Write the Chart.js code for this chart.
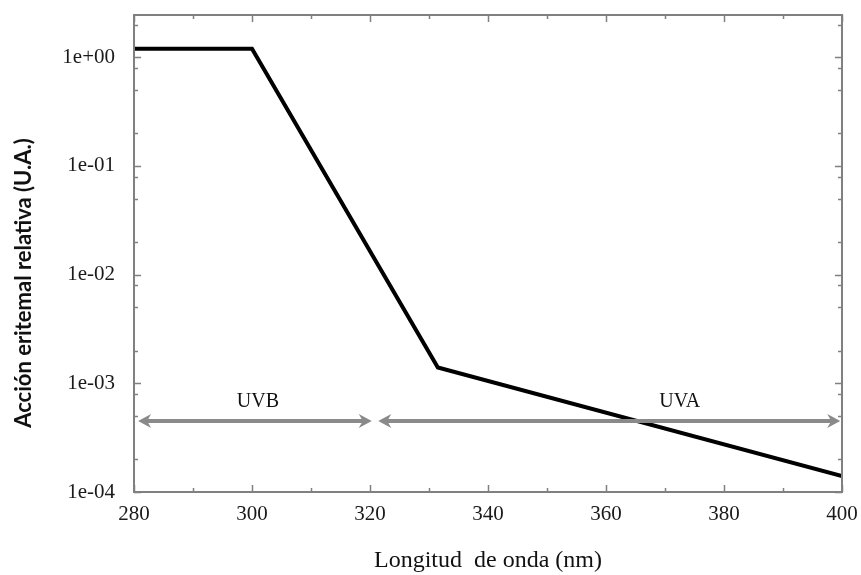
<!DOCTYPE html>
<html>
<head>
<meta charset="utf-8">
<script src="https://cdn.jsdelivr.net/npm/chart.js@4.4.1/dist/chart.umd.min.js"></script>
<style>
  html, body { margin: 0; padding: 0; background: #fff; }
  #wrap { width: 861px; height: 575px; }
</style>
</head>
<body>
<div id="wrap"><canvas id="myChart"></canvas></div>
<script>
// erythemal action spectrum
const wavelengths = [280, 300, 331.5, 400];
const action = [1.2, 1.2, 1.4e-3, 1.4e-4];

const xTicks = [280, 300, 320, 340, 360, 380, 400];
const yDecades = [1e-4, 1e-3, 1e-2, 1e-1, 1];
const yMinorFactors = [0.8, 0.5, 0.2];

// band arrows
const uvbRange = [280.7, 320.3];
const uvaRange = [321.4, 399.7];
const arrowLevel = 4.5e-4;
const bandLabels = ['UVB', 'UVA'];
const bandLabelX = [301, 372.5];
const bandLabelY = 6.8e-4;

const axisGray = '#808080';

function drawArrow(c, x1, x2, y) {
  c.save();
  c.strokeStyle = '#8a8a8a';
  c.fillStyle = '#8a8a8a';
  c.lineWidth = 4;
  c.beginPath();
  c.moveTo(x1 + 8, y);
  c.lineTo(x2 - 8, y);
  c.stroke();
  [[x1, 1], [x2, -1]].forEach(function (h) {
    const tx = h[0], d = h[1];
    c.beginPath();
    c.moveTo(tx, y);
    c.lineTo(tx + d * 13, y - 7);
    c.lineTo(tx + d * 9, y);
    c.lineTo(tx + d * 13, y + 7);
    c.closePath();
    c.fill();
  });
  c.restore();
}

const framePlugin = {
  id: 'frame',
  afterDatasetsDraw(chart) {
    const c = chart.ctx;
    const a = chart.chartArea;
    const xs = chart.scales.x;
    const ys = chart.scales.y;

    // arrows + band labels
    const ay = ys.getPixelForValue(arrowLevel);
    drawArrow(c, xs.getPixelForValue(uvbRange[0]), xs.getPixelForValue(uvbRange[1]), ay);
    drawArrow(c, xs.getPixelForValue(uvaRange[0]), xs.getPixelForValue(uvaRange[1]), ay);
    c.save();
    c.fillStyle = '#111';
    c.font = '20px "Liberation Serif", serif';
    c.textAlign = 'center';
    c.textBaseline = 'middle';
    bandLabels.forEach(function (t, i) {
      c.fillText(t, xs.getPixelForValue(bandLabelX[i]), ys.getPixelForValue(bandLabelY));
    });
    c.restore();

    // box
    c.save();
    c.strokeStyle = axisGray;
    c.lineWidth = 2;
    c.strokeRect(a.left, a.top, a.right - a.left, a.bottom - a.top);

    // inward ticks
    c.lineWidth = 1.5;
    c.beginPath();
    for (let v = 280; v <= 400; v += 10) {
      const px = Math.round(xs.getPixelForValue(v)) + 0.5;
      const len = (v % 20 === 0) ? 7 : 4;
      c.moveTo(px, a.bottom); c.lineTo(px, a.bottom - len);
      c.moveTo(px, a.top); c.lineTo(px, a.top + len);
    }
    ys.ticks.forEach(function (t) {
      const py = Math.round(ys.getPixelForValue(t.value)) + 0.5;
      const len = t.major ? 7 : 4;
      c.moveTo(a.left, py); c.lineTo(a.left + len, py);
      c.moveTo(a.right, py); c.lineTo(a.right - len, py);
    });
    c.stroke();
    c.restore();

    // y title
    c.save();
    c.fillStyle = '#111';
    c.font = 'bold 22px Lato, sans-serif';
    c.textAlign = 'center';
    c.textBaseline = 'middle';
    c.translate(24, 283);
    c.rotate(-Math.PI / 2);
    c.fillText('Acción eritemal relativa (U.A.)', 0, 0);
    c.restore();
  }
};

const ctx = document.getElementById('myChart');

new Chart(ctx, {
  type: 'line',
  data: {
    datasets: [{
      data: wavelengths.map((w, i) => ({ x: w, y: action[i] })),
      borderColor: '#000',
      borderWidth: 4,
      pointRadius: 0,
      tension: 0
    }]
  },
  options: {
    responsive: true,
    maintainAspectRatio: false,
    animation: false,
    events: [],
    layout: { padding: { top: 15, right: 19, left: 0, bottom: 0 } },
    plugins: { legend: { display: false }, tooltip: { enabled: false } },
    scales: {
      x: {
        type: 'linear',
        min: 280,
        max: 400,
        afterBuildTicks: (s) => { s.ticks = xTicks.map(v => ({ value: v })); },
        afterFit: (s) => {
          s.height = 83;
          s.paddingLeft = 0; s.paddingRight = 0;
        },
        grid: { display: false, drawTicks: false },
        border: { display: false },
        ticks: {
          color: '#1a1a1a',
          font: { family: '"Liberation Serif", serif', size: 21 },
          padding: 10,
          maxRotation: 0
        },
        title: {
          display: true,
          text: 'Longitud  de onda (nm)',
          color: '#111',
          font: { family: '"Liberation Serif", serif', size: 24 },
          padding: { top: 0, bottom: 0 }
        }
      },
      y: {
        type: 'logarithmic',
        min: 1e-4,
        max: 2.45,
        afterBuildTicks: (s) => {
          const t = [];
          yDecades.forEach(d => {
            t.push({ value: d, major: true });
            if (d > 1e-4) yMinorFactors.forEach(f => t.push({ value: d * f, major: false }));
          });
          t.push({ value: 2, major: false });
          s.ticks = t;
        },
        afterFit: (s) => {
          s.width = 134;
          s.paddingTop = 0; s.paddingBottom = 0;
        },
        grid: { display: false, drawTicks: false },
        border: { display: false },
        ticks: {
          color: '#1a1a1a',
          font: { family: '"Liberation Serif", serif', size: 21 },
          padding: 19,
          autoSkip: false,
          callback: function (v) {
            const e = Math.round(Math.log10(v));
            if (Math.abs(v - Math.pow(10, e)) > 1e-9 * Math.pow(10, e)) return '';
            return '1e' + (e < 0 ? '-' : '+') + String(Math.abs(e)).padStart(2, '0');
          }
        }
      }
    }
  },
  plugins: [framePlugin]
});
</script>
</body>
</html>
